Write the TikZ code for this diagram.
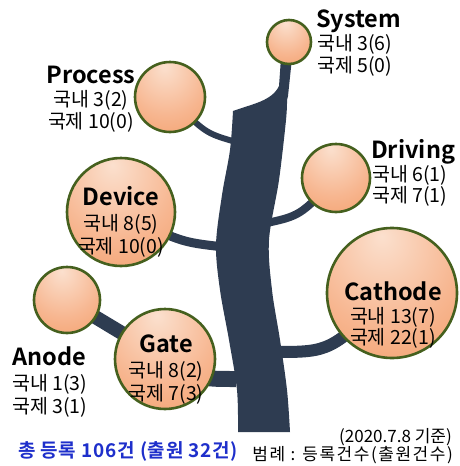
\documentclass[tikz,border=0pt]{standalone}
\usepackage{fontspec}
\setmainfont{Noto Sans CJK KR}[BoldFont={Noto Sans CJK KR Bold}]
\usetikzlibrary{backgrounds}
\definecolor{trunkc}{HTML}{2E3C51}
\definecolor{ringc}{HTML}{45601E}
\definecolor{pkA}{HTML}{FBE0CE}
\definecolor{pkB}{HTML}{F7B690}
\definecolor{pkC}{HTML}{F08E50}
\definecolor{totc}{HTML}{1E2FCB}
\pgfdeclareradialshading{peach}{\pgfpoint{-4bp}{22bp}}{color(0bp)=(pkA); color(28bp)=(pkB); color(62bp)=(pkC); color(85bp)=(pkC)}
\tikzset{
  bubble/.style={circle, draw=ringc, line width=2.6pt, shading=peach, inner sep=0pt},
  ttl/.style={font=\bfseries\fontsize{23.5}{28}\selectfont, inner sep=0pt},
  kr/.style={font=\fontsize{19.5}{22}\selectfont, inner sep=0pt},
  note/.style={font=\fontsize{17}{20}\selectfont, inner sep=0pt},
  total/.style={font=\bfseries\fontsize{19}{22}\selectfont\addfontfeatures{LetterSpace=4}, text=totc, inner sep=0pt},
  branch/.style={draw=trunkc, line cap=butt}
}
\begin{document}
\begin{tikzpicture}[x=1pt,y=-1pt]
\useasboundingbox (0,0) rectangle (459,466);
% bubbles
\node[bubble, minimum size=44pt]  (sys)  at (289,42)  {};
\node[bubble, minimum size=70pt]  (proc) at (170,97)  {};
\node[bubble, minimum size=68pt]  (drv)  at (336,178) {};
\node[bubble, minimum size=108pt] (dev)  at (121,212) {};
\node[bubble, minimum size=66pt]  (ano)  at (67,300)  {};
\node[bubble, minimum size=100pt] (gate) at (165,359) {};
\node[bubble, minimum size=130pt] (cat)  at (392,293) {};
% trunk and branches
\begin{scope}[on background layer]
\fill[trunkc] plot[smooth, tension=0.55] coordinates {(238,432) (237,390) (229,340) (220,290) (216,245) (222,195) (230,150) (233,111)}
  .. controls (252,104) and (272,101) .. (279,86) -- (281,58) -- (292,58) -- (288,96)
  -- plot[smooth, tension=0.55] coordinates {(287,100) (286,120) (279,180) (269,240) (272,290) (280,340) (287,390) (290,432)} -- cycle;
\draw[branch, line width=6pt]  (proc.center) .. controls (205,133) .. (236,142);
\draw[branch, line width=9pt]  (dev.center)  .. controls (180,242) .. (224,247);
\draw[branch, line width=8pt]  (drv.center)  .. controls (300,216) .. (262,224);
\draw[branch, line width=12pt] (cat.center)  .. controls (330,352) .. (274,352);
\draw[branch, line width=16pt] (gate.center) .. controls (200,379) .. (236,379);
\draw[branch, line width=14pt] (ano.center) -- (gate.center);
\end{scope}
% labels
\node[ttl, anchor=base west] (sysT) at (316,27) {System};
\node[kr, anchor=base west] (sysA) at (317,50) {국내 3(6)};
\node[kr, anchor=base west] (sysB) at (317,72) {국제 5(0)};
\node[ttl, anchor=base] (procT) at (91,83) {Process};
\node[kr, anchor=base] (procA) at (91,106) {국내 3(2)};
\node[kr, anchor=base] (procB) at (91,128) {국제 10(0)};
\node[ttl, anchor=base west] (drvT) at (371,158) {Driving};
\node[kr, anchor=base west] (drvA) at (372,181) {국내 6(1)};
\node[kr, anchor=base west] (drvB) at (372,202) {국제 7(1)};
\node[ttl, anchor=base] (devT) at (121,205) {Device};
\node[kr, anchor=base] (devA) at (121,230) {국내 8(5)};
\node[kr, anchor=base] (devB) at (121,253) {국제 10(0)};
\node[ttl, anchor=base west] (anoT) at (12,365) {Anode};
\node[kr, anchor=base west] (anoA) at (12,390) {국내 1(3)};
\node[kr, anchor=base west] (anoB) at (12,413) {국제 3(1)};
\node[ttl, anchor=base] (gateT) at (166,352) {Gate};
\node[kr, anchor=base] (gateA) at (166,377) {국내 8(2)};
\node[kr, anchor=base] (gateB) at (166,400) {국제 7(3)};
\node[ttl, anchor=base] (catT) at (393,300) {Cathode};
\node[kr, anchor=base] (catA) at (393,323) {국내 13(7)};
\node[kr, anchor=base] (catB) at (393,344) {국제 22(1)};
% footer
\node[total, anchor=base west] (tot) at (18,457) {총 등록 106건 (출원 32건)};
\node[note, anchor=base east] (date) at (452,442) {(2020.7.8 기준)};
\node[note, anchor=base east, font=\fontsize{17}{20}\selectfont\addfontfeatures{LetterSpace=9}] (legend) at (453,460) {범례 : 등록건수(출원건수)};
\end{tikzpicture}
\end{document}
